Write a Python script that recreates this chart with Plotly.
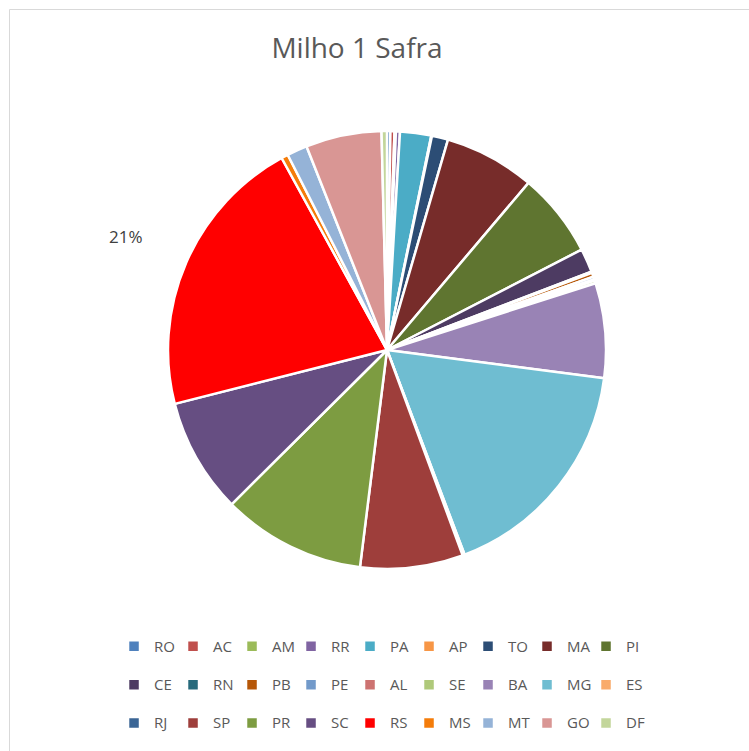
import math
import plotly.graph_objects as go

categories = ["RO", "AC", "AM", "RR", "PA", "AP", "TO", "MA", "PI",
              "CE", "RN", "PB", "PE", "AL", "SE", "BA", "MG", "ES",
              "RJ", "SP", "PR", "SC", "RS", "MS", "MT", "GO", "DF"]
shares = [0.25, 0.3, 0.1, 0.3, 2.3, 0.05, 1.2, 6.7, 6.25,
          1.75, 0.1, 0.3, 0.2, 0.1, 0.2, 7.0, 17.2, 0.05,
          0.1, 7.6, 10.6, 8.5, 21.0, 0.5, 1.5, 5.6, 0.4]
colors = ["#4F81BD", "#C0504D", "#9BBB59", "#8064A2", "#4BACC6", "#F79646", "#2C4D75", "#772C2A", "#5F7530",
          "#4D3B62", "#276A7C", "#B65708", "#729ACA", "#CD7371", "#AFC97A", "#9983B5", "#6FBDD1", "#F9AB6B",
          "#3A6595", "#9E3E3B", "#7D9C41", "#664E82", "#FF0000", "#F47C0A", "#95B3D7", "#D99694", "#C3D69B"]
labelled = ["RS"]

FONT = "Open Sans"
W, H = 749, 751
L, R, T, B = 112, 87, 131, 182
pw, ph = W - L - R, H - T - B
PER_ROW = 9

# legend rows 1-2 get an extra blank line so the rows are spaced like the original
legend_names = []
for i, c in enumerate(categories):
    name = f"<span style='font-size:15px'>{c}</span>"
    if i < len(categories) - PER_ROW:
        name += "<br>\u00a0"
    legend_names.append(name)

fig = go.Figure(go.Pie(
    labels=legend_names,
    values=shares,
    sort=False,
    direction="clockwise",
    rotation=0,
    marker=dict(colors=colors, line=dict(color="white", width=2.5)),
    textinfo="none",
    hoverinfo="skip",
    showlegend=True,
))

def px_x(p):
    return (p - L) / pw

def px_y(p):
    return (H - B - p) / ph

# data labels placed along each labelled slice's mid-angle, outside the pie
total = sum(shares)
annotations = []
cum = 0.0
radius_px = ph / 2
cx_px, cy_px = L + pw / 2, T + ph / 2
for c, v in zip(categories, shares):
    if c in labelled:
        mid = 2 * math.pi * (cum + v / 2) / total
        dist = 1.3 * radius_px
        lx = cx_px + dist * math.sin(mid)
        ly = cy_px - dist * math.cos(mid)
        annotations.append(dict(text=f"{round(100 * v / total)}%", x=px_x(lx), y=px_y(ly),
                                xref="paper", yref="paper", showarrow=False,
                                xanchor="center", yanchor="middle",
                                font=dict(family=FONT, size=17, color="#404040")))
    cum += v

fig.update_layout(
    width=W, height=H,
    margin=dict(l=L, r=R, t=T, b=B),
    paper_bgcolor="white",
    plot_bgcolor="white",
    font=dict(family=FONT, color="#595959"),
    title=dict(text="Milho 1 Safra", x=357 / W, xref="container", xanchor="center",
               y=1 - 48 / H, yref="container", yanchor="middle",
               font=dict(family=FONT, size=28, color="#595959")),
    legend=dict(orientation="h", x=0.4864, xanchor="center", y=px_y(631), yanchor="top",
                entrywidth=14, valign="top",
                font=dict(family=FONT, size=13.6, color="#595959")),
    annotations=annotations,
    shapes=[dict(type="rect", xref="paper", yref="paper",
                 x0=px_x(9.5), x1=px_x(800), y0=px_y(800), y1=px_y(9.5),
                 line=dict(color="#D9D9D9", width=1), fillcolor="rgba(0,0,0,0)", layer="below")],
)

fig.write_html("out.html", config={"displayModeBar": False},
               post_script="document.body.style.margin='0';")
